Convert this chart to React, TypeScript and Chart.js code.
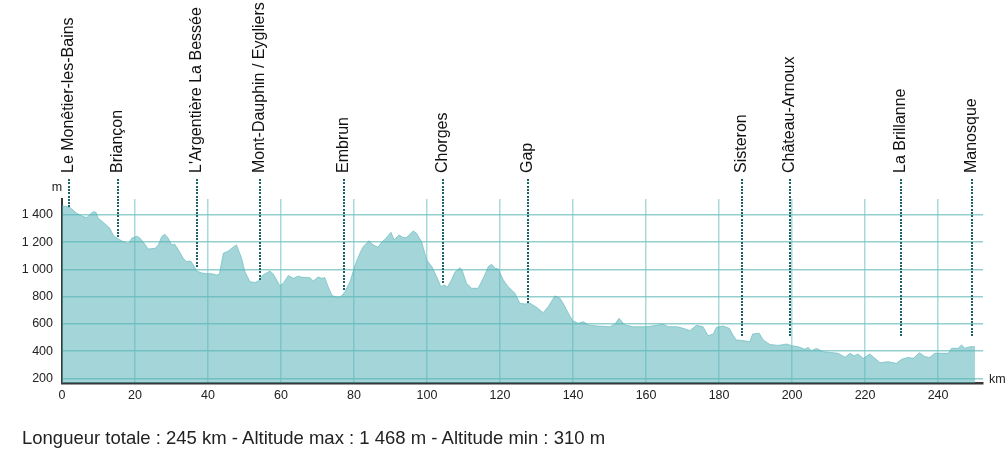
import React, { useEffect, useRef } from "react";
import { Chart, registerables } from "chart.js";

Chart.register(...registerables);

// Profile: distance (km) and altitude (m)
const DIST_KM = [
  0, 0.5, 2.2, 4.0, 5.8, 6.8, 7.7, 8.6, 9.3, 9.9, 11.3, 13.1, 14.1, 15.4, 16.8, 18.2, 19.1, 20.5, 21.4, 22.7,
  23.6, 25.5, 26.4, 27.3, 28.2, 29.1, 30.0, 30.9, 31.9, 33.2, 34.1, 35.2, 36.0, 36.9, 38.3, 39.6, 41.0, 42.4, 43.1,
  44.2, 45.6, 46.5, 47.8, 49.2, 50.1, 51.5, 52.9, 53.8, 55.1, 57.0, 57.9, 59.7, 60.6, 62.0, 63.4, 64.7, 65.7, 67.9,
  68.8, 70.2, 71.1, 72.0, 72.9, 74.0, 75.7, 76.6, 77.5, 78.9, 80.3, 81.6, 82.5, 84.1, 85.0, 86.5, 87.7, 88.6, 90.1,
  91.0, 92.3, 93.5, 94.4, 96.2, 97.1, 98.5, 99.9, 101.3, 102.6, 103.8, 104.7, 105.6, 106.7, 107.6, 109.0, 109.6,
  110.8, 112.2, 114.0, 115.4, 116.8, 117.7, 118.6, 119.5, 120.9, 122.2, 124.1, 125.4, 126.8, 128.2, 130.0, 131.8,
  133.2, 135.0, 136.4, 137.3, 138.7, 139.9, 141.4, 142.8, 144.2, 146.4, 150.1, 151.5, 152.6, 154.2, 156.5, 160.1,
  161.5, 164.7, 166.1, 168.5, 170.2, 172.0, 173.8, 175.6, 177.0, 178.4, 179.3, 181.1, 182.8, 183.8, 184.7, 186.6,
  188.4, 189.2, 191.0, 192.1, 193.9, 196.2, 198.5, 199.9, 201.7, 203.5, 204.4, 205.3, 206.7, 208.5, 210.8, 212.6,
  214.5, 215.9, 217.0, 218.0, 219.5, 221.3, 222.7, 224.1, 226.3, 228.6, 230.0, 231.8, 233.2, 234.9, 236.4, 237.7,
  239.1, 242.8, 243.7, 245.5, 246.4, 247.3, 248.7, 250.1,
];
const ALT_M = [
  1468, 1465, 1454, 1413, 1388, 1381, 1405, 1424, 1420, 1376, 1346, 1302, 1248, 1224, 1204, 1189, 1229, 1244, 1229, 1185,
  1150, 1155, 1180, 1241, 1258, 1229, 1180, 1185, 1143, 1082, 1057, 1062, 1033, 989, 974, 969, 969, 960, 965,
  1119, 1136, 1155, 1180, 1082, 984, 910, 905, 915, 960, 989, 965, 881, 898, 955, 935, 951, 943, 940,
  916, 945, 935, 940, 874, 808, 796, 806, 837, 910, 1033, 1119, 1167, 1211, 1185, 1163, 1204, 1224, 1273,
  1217, 1253, 1234, 1234, 1283, 1266, 1204, 1070, 1021, 948, 874, 886, 872, 923, 979, 1013, 996,
  899, 862, 862, 935, 1021, 1038, 1009, 1004, 923, 874, 825, 752, 747, 752, 723, 683,
  727, 806, 789, 752, 679, 624, 605, 617, 593, 586, 580, 600, 642, 593, 580, 580,
  585, 598, 580, 580, 568, 551, 590, 580, 514, 527, 576, 585, 568, 519, 483, 478,
  470, 527, 532, 483, 450, 443, 453, 441, 433, 414, 428, 404, 421, 397, 390, 385,
  356, 385, 365, 380, 348, 380, 348, 316, 323, 311, 341, 355, 348, 389, 360, 355,
  385, 385, 422, 422, 446, 422, 433, 433,
];

// Towns along the route
const TOWN_NAMES = [
  "Le Monêtier-les-Bains", "Briançon", "L'Argentière La Bessée", "Mont-Dauphin / Eygliers", "Embrun",
  "Chorges", "Gap", "Sisteron", "Château-Arnoux", "La Brillanne", "Manosque",
];
const TOWN_KM = [2.05, 15.4, 36.9, 54.2, 77.2, 104.3, 127.7, 186.3, 199.3, 229.9, 249.2];
const TOWN_MARK_ALT = [1470, 1231, 1029, 930, 844, 901, 754, 512, 512, 512, 512];

const X_TICKS = [0, 20, 40, 60, 80, 100, 120, 140, 160, 180, 200, 220, 240];
const Y_TICKS = [200, 400, 600, 800, 1000, 1200, 1400];
const Y_TICK_LABELS = ["200", "400", "600", "800", "1 000", "1 200", "1 400"];

const SUMMARY = "Longueur totale : 245 km - Altitude max : 1 468 m - Altitude min : 310 m";

function pickTickFont(): { family: string; size: number } {
  try {
    const c = document.createElement("canvas").getContext("2d");
    if (c) {
      c.font = "40px serif";
      const a = c.measureText("0123456789 Narrow").width;
      c.font = "40px 'Liberation Sans Narrow', serif";
      const b = c.measureText("0123456789 Narrow").width;
      if (Math.abs(a - b) > 1) return { family: "'Liberation Sans Narrow'", size: 14.5 };
    }
  } catch (e) {}
  return { family: "'Liberation Sans', Arial, sans-serif", size: 12.5 };
}

export default function App() {
  const ref = useRef<HTMLCanvasElement | null>(null);

  useEffect(() => {
    if (!ref.current) return;
    const tickFont = pickTickFont();
    const points = DIST_KM.map((d, i) => ({ x: d, y: ALT_M[i] }));

    const townPlugin = {
      id: "towns",
      afterDraw(chart: any) {
        const { ctx, chartArea } = chart;
        const xs = chart.scales.x;
        const ys = chart.scales.y;
        ctx.save();
        // unit labels
        ctx.fillStyle = "#222";
        ctx.font = `${tickFont.size}px ${tickFont.family}`;
        ctx.textAlign = "center";
        ctx.textBaseline = "middle";
        ctx.fillText("m", chartArea.left - 5, chartArea.top - 11);
        ctx.textAlign = "left";
        ctx.fillText("km", chartArea.right + 6, chartArea.bottom - 3);

        const dotTop = chartArea.top - 20;
        for (let i = 0; i < TOWN_NAMES.length; i++) {
          const x = Math.round(xs.getPixelForValue(TOWN_KM[i]));
          const yEnd = ys.getPixelForValue(TOWN_MARK_ALT[i]);
          ctx.fillStyle = "#1d6265";
          for (let y = dotTop; y <= yEnd; y += 3.3) {
            ctx.fillRect(x - 1, Math.round(y), 2, 2);
          }
          ctx.save();
          ctx.translate(x + 3.5, dotTop - 6);
          ctx.rotate(-Math.PI / 2);
          ctx.fillStyle = "#111";
          ctx.font = "16px 'Liberation Sans', Arial, sans-serif";
          ctx.textAlign = "left";
          ctx.textBaseline = "alphabetic";
          ctx.fillText(TOWN_NAMES[i], 0, 0);
          ctx.restore();
        }
        ctx.restore();
      },
    };

    const chart = new Chart(ref.current, {
      type: "line",
      data: {
        datasets: [
          {
            data: points,
            fill: "start",
            backgroundColor: "rgba(90,180,185,0.55)",
            borderColor: "rgba(90,180,185,0.6)",
            borderWidth: 1,
            pointRadius: 0,
            tension: 0,
          },
        ],
      },
      options: {
        animation: false,
        responsive: false,
        maintainAspectRatio: false,
        events: [],
        layout: { padding: { top: 199, right: 23, left: 0, bottom: 0 } },
        plugins: { legend: { display: false }, tooltip: { enabled: false } },
        scales: {
          x: {
            type: "linear",
            min: 0,
            max: 252.3,
            afterFit(scale: any) {
              scale.height = 68;
            },
            afterBuildTicks(scale: any) {
              scale.ticks = X_TICKS.map((v) => ({ value: v }));
            },
            border: { display: true, color: "#383838", width: 2.5 },
            grid: {
              drawTicks: false,
              lineWidth: 1.5,
              color: (c: any) => (c.tick && c.tick.value === 0 ? "rgba(0,0,0,0)" : "rgba(140,205,205,0.75)"),
            },
            ticks: {
              autoSkip: false,
              maxRotation: 0,
              padding: 5,
              color: "#222",
              font: { family: tickFont.family, size: tickFont.size },
              callback: (v: any) => String(v),
            },
          },
          y: {
            type: "linear",
            min: 167,
            max: 1517,
            afterFit(scale: any) {
              scale.width = 62;
            },
            afterBuildTicks(scale: any) {
              scale.ticks = Y_TICKS.map((v) => ({ value: v }));
            },
            border: { display: true, color: "#383838", width: 2 },
            grid: {
              drawTicks: false,
              lineWidth: 1.5,
              color: "rgba(120,195,195,0.8)",
            },
            ticks: {
              padding: 9,
              color: "#222",
              font: { family: tickFont.family, size: tickFont.size },
              callback: (v: any) => {
                const i = Y_TICKS.indexOf(Number(v));
                return i >= 0 ? Y_TICK_LABELS[i] : "";
              },
            },
          },
        },
      },
      plugins: [townPlugin],
    });
    return () => chart.destroy();
  }, []);

  return (
    <div style={{ position: "absolute", left: 0, top: 0, width: 1006, height: 451, background: "#fff" }}>
      <canvas ref={ref} width={1006} height={451} style={{ position: "absolute", left: 0, top: 0 }} />
      <div
        style={{
          position: "absolute",
          left: 22,
          top: 427,
          fontFamily: "'Liberation Sans', Arial, sans-serif",
          fontSize: 18.5,
          lineHeight: "22px",
          color: "#222",
          whiteSpace: "nowrap",
        }}
      >
        {SUMMARY}
      </div>
    </div>
  );
}
